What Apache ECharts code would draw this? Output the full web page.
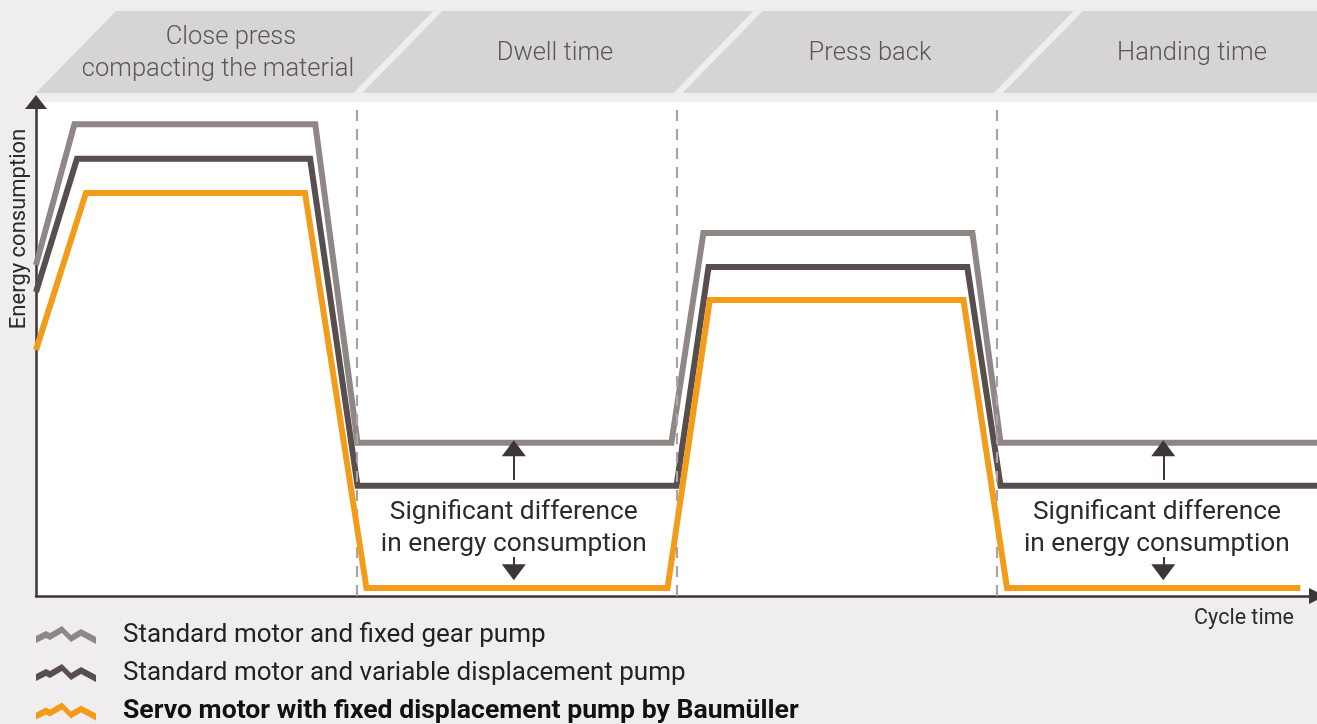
<!DOCTYPE html>
<html>
<head>
<meta charset="utf-8">
<script src="https://cdn.jsdelivr.net/npm/echarts@6/dist/echarts.min.js"></script>
<style>
html,body{margin:0;padding:0;background:#efeded;}
#chart{width:1317px;height:724px;}
</style>
</head>
<body>
<div id="chart"></div>
<script>
// ---- data ----
const phaseNames = ['Close press\ncompacting the material', 'Dwell time', 'Press back', 'Handing time'];
const phaseBounds = [0, 25, 50, 75, 100];
const seriesNames = [
  'Standard motor and fixed gear pump',
  'Standard motor and variable displacement pump',
  'Servo motor with fixed displacement pump by Baumüller'
];
const timeGear = [0, 3.0, 21.8, 25.1, 49.6, 52.1, 73.1, 75.3, 100];
const energyGear = [67.0, 95.5, 95.5, 31.0, 31.0, 73.5, 73.5, 31.0, 31.0];
const timeVariable = [0, 3.2, 21.4, 25.1, 50.0, 52.5, 72.7, 75.3, 100];
const energyVariable = [61.5, 88.5, 88.5, 22.3, 22.3, 66.6, 66.6, 22.3, 22.3];
const timeServo = [0, 3.9, 21.0, 25.8, 49.3, 52.6, 72.4, 75.8, 98.7];
const energyServo = [49.8, 81.6, 81.6, 1.6, 1.6, 59.9, 59.9, 1.6, 1.6];
const annotationTimes = [37.3, 87.5];
const arrowTimes = [37.3, 88.0];
const annotationText = 'Significant difference\nin energy consumption';
const upArrowEnergy = [23.5, 29.9];
const downArrowEnergy = [4.8, 7.9];
const yAxisName = 'Energy consumption';
const xAxisName = 'Cycle time';

const colors = ['#8f8786', '#574e4d', '#f39c1a'];
const zig = 'path://M0,10 L10,5 L14,7 L26,0 L35,9 L45,3 L60,11 L60,18 L45,10 L35,16 L26,7 L14,14 L10,12 L0,17 Z';

function pairs(t, e) { return t.map((v, i) => [v, e[i]]); }

const chart = echarts.init(document.getElementById('chart'), null, {renderer: 'canvas'});
const FONT = 'Roboto, "Noto Sans", sans-serif';

const arrowMarks = [];
arrowTimes.forEach(t => {
  arrowMarks.push([{coord: [t, upArrowEnergy[0]], symbol: 'none'}, {coord: [t, upArrowEnergy[1]], symbol: 'triangle'}]);
  arrowMarks.push([{coord: [t, downArrowEnergy[1]], symbol: 'none'}, {coord: [t, downArrowEnergy[0]], symbol: 'triangle'}]);
});

const legendTops = [622, 660, 698];
const legends = seriesNames.map((n, i) => ({
  orient: 'vertical', left: 36, top: legendTops[i], padding: 0,
  itemWidth: 60, itemHeight: 18, selectedMode: false,
  textStyle: {
    fontFamily: FONT, fontSize: i === 2 ? 26.6 : 26, lineHeight: 26,
    fontWeight: i === 2 ? 'bold' : 'normal', color: i === 2 ? '#111' : '#222',
    padding: [0, 0, 0, 22]
  },
  data: [{name: n, icon: zig}]
}));

const option = {
  backgroundColor: '#efeded',
  animation: false,
  grid: {left: 36, right: 0, top: 102, bottom: 128, show: true, backgroundColor: '#ffffff', borderWidth: 0, containLabel: false},
  xAxis: {
    type: 'value', min: 0, max: 100,
    axisLine: {show: true, onZero: false, symbol: ['none', 'triangle'], symbolSize: [16, 16], lineStyle: {color: '#3d3636', width: 2.5}},
    axisTick: {show: false}, axisLabel: {show: false}, splitLine: {show: false}
  },
  yAxis: {
    type: 'value', min: 0, max: 100,
    axisLine: {show: true, onZero: false, symbol: ['none', 'triangle'], symbolSize: [22, 14], lineStyle: {color: '#3d3636', width: 2.5}},
    axisTick: {show: false}, axisLabel: {show: false}, splitLine: {show: false}
  },
  legend: legends,
  series: [
    {
      name: seriesNames[0], type: 'line', data: pairs(timeGear, energyGear), showSymbol: false, symbol: 'none',
      lineStyle: {color: colors[0], width: 6, join: 'miter'}, itemStyle: {color: colors[0]}, z: 3,
      markLine: {
        silent: true, symbol: 'none', label: {show: false},
        lineStyle: {color: '#a9a4a5', width: 2.2, type: [11, 8]},
        data: phaseBounds.slice(1, 4).map(b => ({xAxis: b}))
      }
    },
    {
      name: seriesNames[1], type: 'line', data: pairs(timeVariable, energyVariable), showSymbol: false, symbol: 'none',
      lineStyle: {color: colors[1], width: 6, join: 'miter'}, itemStyle: {color: colors[1]}, z: 4
    },
    {
      name: seriesNames[2], type: 'line', data: pairs(timeServo, energyServo), showSymbol: false, symbol: 'none',
      lineStyle: {color: colors[2], width: 6, join: 'miter'}, itemStyle: {color: colors[2]}, z: 5,
      markLine: {
        silent: true, label: {show: false}, symbolSize: [24, 16],
        lineStyle: {color: '#3d3636', width: 2, type: 'solid'},
        itemStyle: {color: '#3d3636'},
        data: arrowMarks
      }
    }
  ]
};
chart.setOption(option);

// ---- decorations placed from the axis scales ----
const px = t => chart.convertToPixel({gridIndex: 0}, [t, 0])[0];
const graphics = [];
const hTop = 11, hBot = 93, slant = 80;
const headerColor = '#d6d4d5';
for (let i = 0; i < 4; i++) {
  const l = px(phaseBounds[i]) + (i === 0 ? 0 : 6);
  const r = i === 3 ? 1317 + slant : px(phaseBounds[i + 1]) - 3;
  graphics.push({type: 'polygon', shape: {points: [[l, hBot], [l + slant, hTop], [r + slant, hTop], [r, hBot]]}, style: {fill: headerColor}, z: 1});
}
const headerCenters = [[231, 218], [555], [870], [1192]];
const HF = '300 25.5px ' + FONT;
phaseNames.forEach((n, i) => {
  const lines = n.split('\n');
  if (lines.length === 2) {
    graphics.push({type: 'text', x: headerCenters[i][0], y: 38, style: {text: lines[0], font: HF, fill: '#5a5657', align: 'center', verticalAlign: 'middle'}, z: 2});
    graphics.push({type: 'text', x: headerCenters[i][1], y: 70, style: {text: lines[1], font: HF, fill: '#5a5657', align: 'center', verticalAlign: 'middle'}, z: 2});
  } else {
    graphics.push({type: 'text', x: headerCenters[i][0], y: 54, style: {text: lines[0], font: HF, fill: '#5a5657', align: 'center', verticalAlign: 'middle'}, z: 2});
  }
});
annotationTimes.forEach(t => {
  graphics.push({type: 'text', x: px(t), y: 528, style: {text: annotationText, font: '26.3px ' + FONT, fill: '#2b2b2b', align: 'center', verticalAlign: 'middle', lineHeight: 32}, z: 10});
});
graphics.push({type: 'text', x: 19, y: 229, rotation: Math.PI / 2, style: {text: yAxisName, font: '22px ' + FONT, fill: '#2b2b2b', align: 'center', verticalAlign: 'middle'}, z: 10});
graphics.push({type: 'text', x: 1244, y: 619, style: {text: xAxisName, font: '21.5px ' + FONT, fill: '#2b2b2b', align: 'center', verticalAlign: 'middle'}, z: 10});
chart.setOption({graphic: {elements: graphics}});
</script>
</body>
</html>
